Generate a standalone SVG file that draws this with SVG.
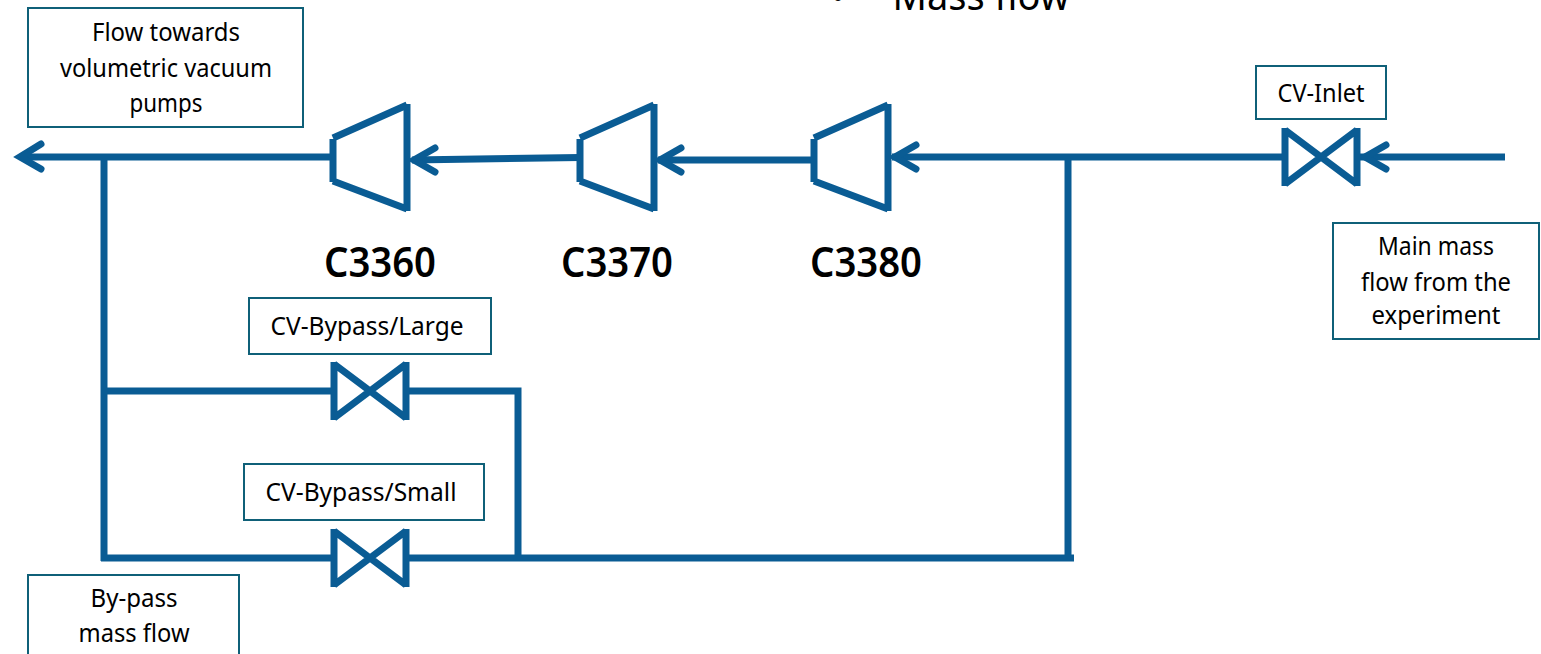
<svg xmlns="http://www.w3.org/2000/svg" width="1541" height="654" viewBox="0 0 1541 654">
<style>
text{font-family:"Noto Sans","Open Sans","Liberation Sans",sans-serif;fill:#000;text-anchor:middle}
.t{font-size:26px}
.b{font-size:41px;font-weight:600}
.box{fill:#fff;stroke:#0f6078;stroke-width:2}
.sym{fill:none;stroke:#0a5c94;stroke-width:7}
.line{fill:none;stroke:#0a5c94;stroke-width:7}
.head{fill:none;stroke:#0a5c94;stroke-width:7;stroke-linecap:round;stroke-linejoin:miter}
</style>
<defs>
<path id="comp" class="sym" d="M333 139V182M333 138L407 105M333 181L407 209M407 104V211"/>
<path id="valve" class="sym" d="M-36 -29V29M36 -29V29M-36 -27L36 27M-36 27L36 -27"/>
</defs>
<rect width="1541" height="654" fill="#fff"/>
<text id="title" x="981" y="10" font-size="40" textLength="177" lengthAdjust="spacingAndGlyphs">Mass flow</text>
<text x="838" y="10" font-size="36">•</text>
<g id="connectors">
<path class="line" d="M20 157H333"/>
<path class="line" d="M412 160L580 157.500"/>
<path class="line" d="M658 160H814"/>
<path class="line" d="M892 157H1285"/>
<path class="line" d="M1360 157H1505"/>
<path class="line" d="M104 157V561"/>
<path class="line" d="M1068 157V561"/>
<path class="line" d="M104 391H333"/>
<path class="line" d="M407 391H518V558"/>
<path class="line" d="M101 558H333"/>
<path class="line" d="M407 558H1074"/>
<path class="head" d="M41 144L20 157L41 169"/>
<path class="head" d="M435 148L414 160L435 172"/>
<path class="head" d="M681 148L660 160L681 172"/>
<path class="head" d="M916 145L895 157L916 169"/>
<path class="head" d="M1386 145L1365 157L1386 169"/>
</g>
<g id="box-pumps"><rect class="box" x="28" y="8" width="275" height="119"/>
<text class="t" x="166" y="41" textLength="148" lengthAdjust="spacingAndGlyphs">Flow towards</text>
<text class="t" x="166" y="77" textLength="212" lengthAdjust="spacingAndGlyphs">volumetric vacuum</text>
<text class="t" x="166" y="112" textLength="73" lengthAdjust="spacingAndGlyphs">pumps</text></g>
<g id="C3360"><use href="#comp"/><text class="b" x="380" y="277" textLength="112" lengthAdjust="spacingAndGlyphs">C3360</text></g>
<g id="C3370"><use href="#comp" x="247"/><text class="b" x="617" y="277" textLength="112" lengthAdjust="spacingAndGlyphs">C3370</text></g>
<g id="C3380"><use href="#comp" x="481"/><text class="b" x="866" y="277" textLength="112" lengthAdjust="spacingAndGlyphs">C3380</text></g>
<g id="CV-Inlet"><rect class="box" x="1256" y="66" width="130" height="53"/>
<text class="t" x="1321" y="102" textLength="87" lengthAdjust="spacingAndGlyphs">CV-Inlet</text>
<use href="#valve" x="1321" y="157"/></g>
<g id="box-main"><rect class="box" x="1333" y="223" width="206" height="116"/>
<text class="t" x="1436" y="255" textLength="116" lengthAdjust="spacingAndGlyphs">Main mass</text>
<text class="t" x="1436" y="291" textLength="150" lengthAdjust="spacingAndGlyphs">flow from the</text>
<text class="t" x="1436" y="324" textLength="129" lengthAdjust="spacingAndGlyphs">experiment</text></g>
<g id="CV-Bypass-Large"><rect class="box" x="249" y="298" width="242" height="56"/>
<text class="t" x="367" y="335" textLength="193" lengthAdjust="spacingAndGlyphs">CV-Bypass/Large</text>
<use href="#valve" x="370" y="391"/></g>
<g id="CV-Bypass-Small"><rect class="box" x="244" y="464" width="240" height="56"/>
<text class="t" x="361" y="501" textLength="191" lengthAdjust="spacingAndGlyphs">CV-Bypass/Small</text>
<use href="#valve" x="370" y="558"/></g>
<g id="box-bypass"><rect class="box" x="28" y="575" width="211" height="90"/>
<text class="t" x="134" y="607" textLength="87" lengthAdjust="spacingAndGlyphs">By-pass</text>
<text class="t" x="134" y="642" textLength="111" lengthAdjust="spacingAndGlyphs">mass flow</text></g>
</svg>
